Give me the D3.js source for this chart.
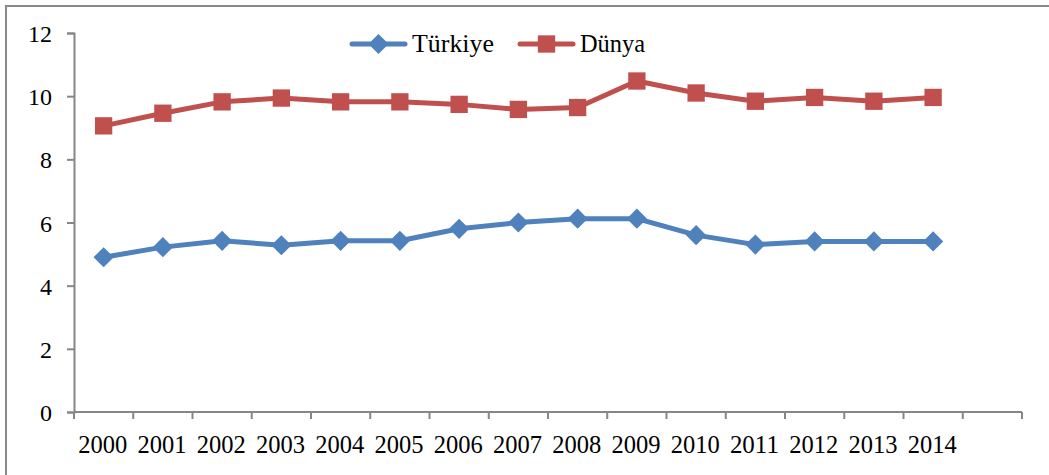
<!DOCTYPE html>
<html>
<head>
<meta charset="utf-8">
<script src="https://cdn.jsdelivr.net/npm/d3@7"></script>
<style>
  body { margin: 0; background: #fff; }
  svg { display: block; }
  text { font-family: "Liberation Serif", "Times New Roman", serif; fill: #000; }
</style>
</head>
<body>
<div id="chart"></div>
<script>
// data
var years = ["2000", "2001", "2002", "2003", "2004", "2005", "2006", "2007",
             "2008", "2009", "2010", "2011", "2012", "2013", "2014"];
var turkiye = [4.9, 5.22, 5.42, 5.28, 5.42, 5.42, 5.8, 6.0, 6.12, 6.12, 5.6, 5.3, 5.4, 5.4, 5.4];
var dunya = [9.06, 9.46, 9.82, 9.94, 9.82, 9.82, 9.74, 9.58, 9.64, 10.48, 10.1, 9.84, 9.96, 9.84, 9.96];
var yTicks = [0, 2, 4, 6, 8, 10, 12];
var seriesNames = ["Türkiye", "Dünya"];

var W = 1049, H = 475;
var margin = {top: 33, right: 27, bottom: 63, left: 74},
    width = W - margin.left - margin.right,
    height = H - margin.top - margin.bottom;

var svg = d3.select("#chart").append("svg")
    .attr("width", W)
    .attr("height", H)
    .attr("font-family", "Liberation Serif, serif");

// outer frame (runs off the right and bottom edges like the source)
svg.append("rect")
    .attr("x", 6).attr("y", 6)
    .attr("width", W + 20).attr("height", H + 20)
    .style("fill", "none")
    .style("stroke", "#898989")
    .style("stroke-width", 2);

var g = svg.append("g")
    .attr("transform", "translate(" + margin.left + "," + margin.top + ")");

// one empty slot after 2014, as in the original
var slots = years.concat([""]);
var x = d3.scaleBand().domain(slots).range([0, width]);
var y = d3.scaleLinear().domain([0, 12]).range([height, 0]);

// y axis
var yAxis = g.append("g")
    .call(d3.axisLeft(y).tickValues(yTicks).tickSize(7).tickPadding(15));
yAxis.attr("font-family", null).attr("font-size", null);
yAxis.select(".domain").style("stroke", "#868686").style("stroke-width", 2);
yAxis.selectAll(".tick line").style("stroke", "#868686").style("stroke-width", 2);
yAxis.selectAll(".tick text")
    .attr("dy", "0.36em")
    .style("font-size", "24px")
    .style("fill", "#000");

// x axis, ticks on the band boundaries
var xg = g.append("g").attr("transform", "translate(0," + height + ")");
xg.append("line")
    .attr("x1", 0).attr("x2", width)
    .style("stroke", "#868686").style("stroke-width", 2);
xg.selectAll(".xt")
    .data(slots.concat(["end"]))
    .enter().append("line")
    .attr("class", "xt")
    .attr("x1", function(d, i) { return i * x.step(); })
    .attr("x2", function(d, i) { return i * x.step(); })
    .attr("y1", 0).attr("y2", 7)
    .style("stroke", "#868686").style("stroke-width", 2);
xg.selectAll(".xl")
    .data(years)
    .enter().append("text")
    .attr("class", "xl")
    .attr("x", function(d) { return x(d) + x.bandwidth() / 2 - 1; })
    .attr("y", 41)
    .attr("text-anchor", "middle")
    .style("font-size", "25px")
    .attr("textLength", 49)
    .attr("lengthAdjust", "spacingAndGlyphs")
    .text(function(d) { return d; });

var colors = ["#4F81BD", "#C0504D"];
var cx = function(d, i) { return x(years[i]) + x.bandwidth() / 2; };

var line = d3.line()
    .x(function(d, i) { return cx(d, i); })
    .y(function(d) { return y(d); });

[turkiye, dunya].forEach(function(vals, k) {
    g.append("path")
        .datum(vals)
        .attr("d", line)
        .style("fill", "none")
        .style("stroke", colors[k])
        .style("stroke-width", 5)
        .style("stroke-linejoin", "round");
});

var diamond = d3.symbol().type(d3.symbolDiamond2).size(260);
var square = d3.symbol().type(d3.symbolSquare).size(300);

g.selectAll(".mt").data(turkiye).enter().append("path")
    .attr("class", "mt")
    .attr("d", diamond)
    .attr("transform", function(d, i) { return "translate(" + cx(d, i) + "," + y(d) + ")"; })
    .style("fill", colors[0]);

g.selectAll(".md").data(dunya).enter().append("path")
    .attr("class", "md")
    .attr("d", square)
    .attr("transform", function(d, i) { return "translate(" + cx(d, i) + "," + y(d) + ")"; })
    .style("fill", colors[1]);

// legend
var legendX = [352, 520];
var legendW = [82, 65];
var legend = svg.append("g");
seriesNames.forEach(function(name, k) {
    var lg = legend.append("g").attr("transform", "translate(" + legendX[k] + ",44)");
    lg.append("line")
        .attr("x1", 0).attr("x2", 53)
        .style("stroke", colors[k]).style("stroke-width", 5)
        .style("stroke-linecap", "round");
    lg.append("path")
        .attr("d", k === 0 ? diamond : square)
        .attr("transform", "translate(26.5,0)")
        .style("fill", colors[k]);
    lg.append("text")
        .attr("x", 60).attr("y", 8)
        .style("font-size", "25px")
        .attr("textLength", legendW[k])
        .attr("lengthAdjust", "spacingAndGlyphs")
        .text(name);
});
</script>
</body>
</html>
